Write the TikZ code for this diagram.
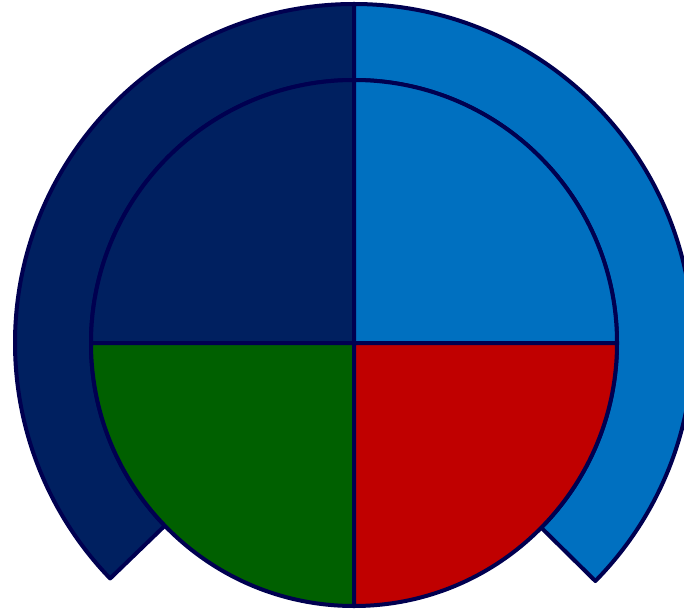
\documentclass[tikz,border=0pt]{standalone}
\usepackage{tikz}
\definecolor{navy}{RGB}{0,32,96}
\definecolor{skyblue}{RGB}{0,112,192}
\definecolor{leaf}{RGB}{0,96,0}
\definecolor{crimson}{RGB}{192,0,0}
\definecolor{edge}{RGB}{0,0,80}

\begin{document}
\begin{tikzpicture}[x=1pt,y=1pt,part/.style={draw=edge,line width=4pt,line join=round}]
 \useasboundingbox (0,0) rectangle (684,611);
 \clip (0,0) rectangle (684,611);
 \coordinate (c) at (354,268);
 % outer ring
 \draw[part,fill=navy] ([shift={(90:339)}]c) arc (90:224:339) -- ([shift={(224:263)}]c) arc (224:90:263) -- cycle;
 \draw[part,fill=skyblue] ([shift={(90:339)}]c) arc (90:-44.6:339) -- ([shift={(-44.6:263)}]c) arc (-44.6:90:263) -- cycle;
 % quarters
 \draw[part,fill=navy] (c) -- ([shift={(90:263)}]c) arc (90:180:263) -- cycle;
 \draw[part,fill=skyblue] (c) -- ([shift={(0:263)}]c) arc (0:90:263) -- cycle;
 \draw[part,fill=leaf] (c) -- ([shift={(180:263)}]c) arc (180:270:263) -- cycle;
 \draw[part,fill=crimson] (c) -- ([shift={(270:263)}]c) arc (270:360:263) -- cycle;
\end{tikzpicture}
\end{document}
